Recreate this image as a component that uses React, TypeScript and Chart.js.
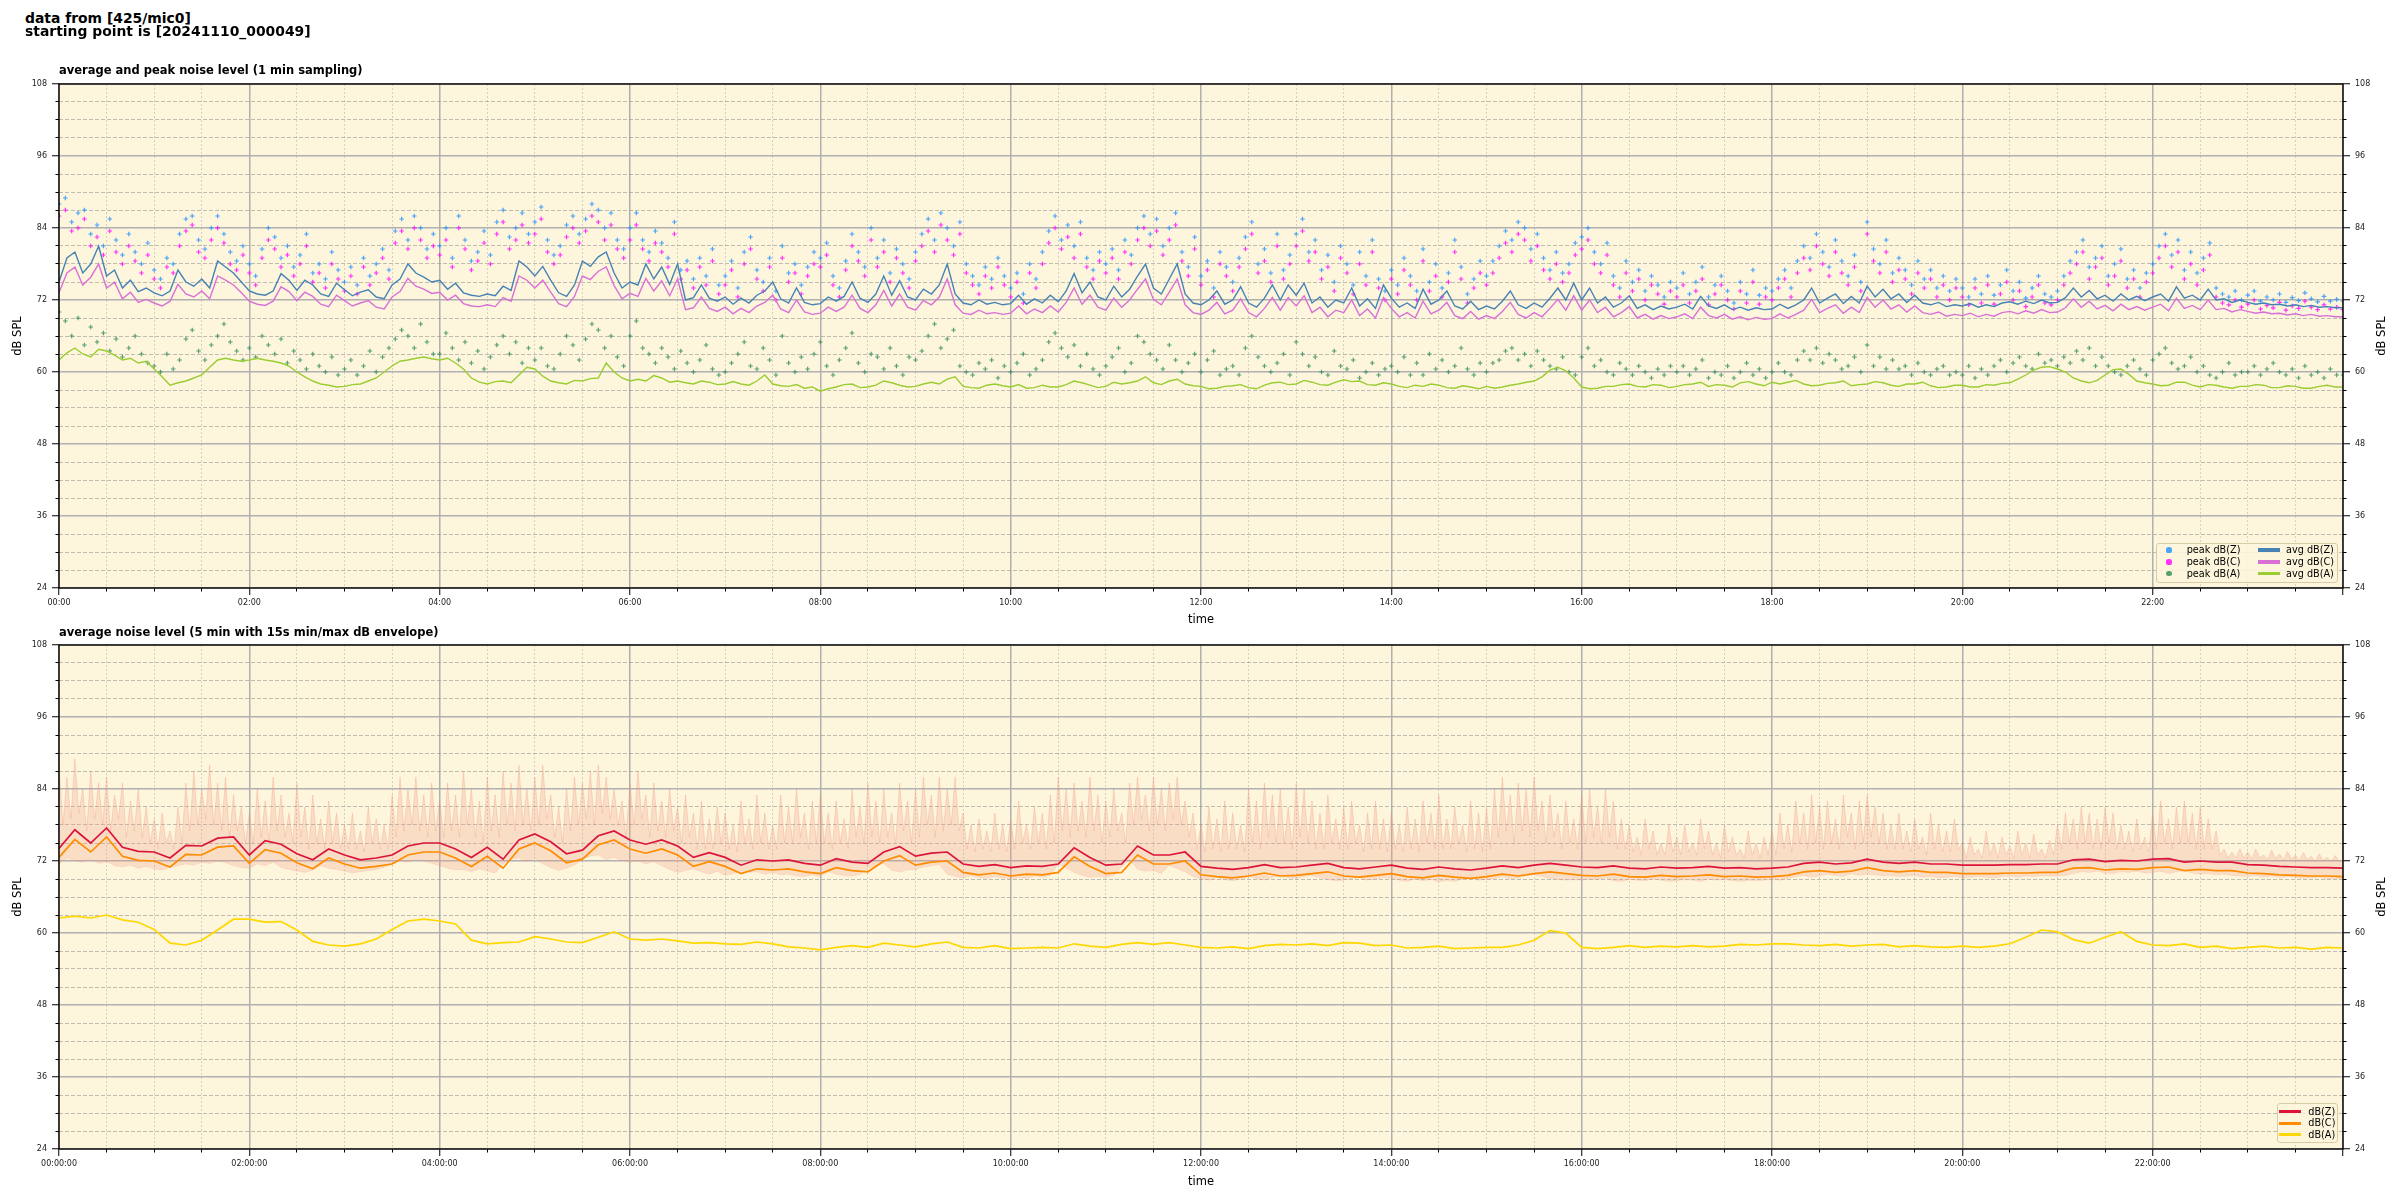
import React, { useEffect, useRef } from 'react';
import { Chart, registerables } from 'chart.js';

Chart.register(...registerables);

// ---------- time grid (minutes after 00:00) ----------
const TOP_AVG_STEP_MIN = 5;
const PEAK_STEP_MIN = 4;
const BOT_AVG_STEP_MIN = 10;
const ENV_MAX_STEP_MIN = 2.5;
const ENV_MIN_STEP_MIN = 5;
const X_MIN = 0;
const X_MAX = 1440;
const Y_MIN = 24;
const Y_MAX = 108;
const MAJOR_X = 120;
const MINOR_X = 30;
const MAJOR_Y = 12;
const MINOR_Y = 3;

// ---------- top panel: averages (read every 5 min, one row per hour) ----------
const topAvgZ = [
  75, 79, 80, 76.5, 78, 81, 76, 77, 74, 75.3, 73.4, 74,
  73.2, 72.7, 73.5, 77, 75, 74.3, 75.5, 74, 78.5, 77.5, 76.5, 75,
  73.5, 73, 72.8, 73.5, 76.4, 75.3, 73.6, 75.3, 74.5, 73, 72.6, 74.8,
  73.7, 72.7, 73.3, 73.7, 72.5, 72.2, 74.5, 75.5, 78, 76.5, 75.8, 75,
  75.3, 73.8, 74.8, 73.2, 72.8, 72.6, 73, 72.7, 74.3, 73.6, 78.5, 77.5,
  76, 77.6, 75.3, 73.2, 72.6, 74.5, 78.5, 77.6, 79.2, 80, 76.5, 74,
  75, 74.5, 78, 75.5, 77.5, 74.6, 78, 72, 72.4, 74.5, 72.3, 71.8,
  72.5, 71.3, 72.3, 71.5, 72.8, 73.5, 75, 72.2, 71.5, 74, 71.6, 71.2,
  71.4, 72.5, 71.8, 72.6, 75, 72.3, 71.6, 73, 76, 72.8, 75.2, 72.5,
  72, 73.8, 73, 74.5, 78, 73, 71.5, 71.2, 72, 71.3, 71.6, 71.2,
  71.4, 72.8, 71.3, 72.2, 71.5, 72.8, 71.7, 73.5, 76.4, 73.2, 75, 72.5,
  72, 74.3, 72.5, 73.8, 76, 78, 74, 73, 75.5, 78, 73, 71.5,
  71.2, 72, 73.5, 71.3, 72, 74.2, 71.5, 70.8, 72.3, 74.5, 72, 74.5,
  72.8, 74.8, 71.5, 72.5, 70.8, 72, 71.5, 74, 71, 72.2, 70.6, 74.5,
  72.3, 70.8, 71.5, 70.6, 73.8, 71.3, 72, 73.5, 71, 70.5, 71.8, 70.4,
  71, 70.5, 71.8, 73.5, 71.2, 70.6, 71.5, 70.8, 72.3, 74, 72, 74.8,
  72, 74, 71.5, 72.5, 70.8, 71.5, 72.7, 70.6, 71.2, 70.4, 71, 70.5,
  70.8, 71.3, 70.5, 72.6, 71, 70.6, 71.2, 70.4, 70.8, 70.3, 70.7, 70.4,
  70.5, 71.3, 70.6, 71.2, 72, 74, 71.5, 72.3, 73, 71.4, 72.6, 71.5,
  74.3, 72.5, 73.8, 72.2, 73, 71.6, 72.8, 71.5, 71.2, 71.6, 70.9, 71.2,
  71, 71.4, 70.8, 71.2, 70.9, 71.5, 71.7, 71.3, 71.8, 71.4, 72, 71.5,
  71.6, 72.4, 74, 72.5, 73.6, 72.2, 72.8, 71.8, 73, 72, 72.6, 71.9,
  72.5, 73, 71.8, 74.2, 72.3, 72.8, 72, 73.8, 72, 72.2, 71.6, 72,
  71.6, 71.3, 71.5, 71.2, 71.3, 71, 71.2, 70.9, 71.1, 70.8, 70.9, 70.7,
  70.7,
];
const topAvgC = [
  73.2, 76.5, 77.5, 74.5, 75.8, 78, 74, 75, 72.2, 73.3, 71.6, 72.1,
  71.5, 71, 71.8, 74.6, 73, 72.5, 73.5, 72.2, 76, 75.3, 74.5, 73.2,
  71.8, 71.3, 71.1, 71.8, 74.2, 73.4, 71.9, 73.3, 72.6, 71.3, 70.9, 72.8,
  71.9, 71, 71.5, 71.9, 70.8, 70.5, 72.5, 73.4, 75.6, 74.3, 73.8, 73.1,
  73.3, 72, 72.8, 71.4, 71, 70.9, 71.2, 70.9, 72.4, 71.8, 76, 75.3,
  74, 75.3, 73.3, 71.4, 70.9, 72.6, 76, 75.4, 76.8, 77.5, 74.4, 72.2,
  73.1, 72.6, 75.6, 73.5, 75.2, 72.7, 75.5, 70.4, 70.7, 72.5, 70.6, 70.1,
  70.8, 69.7, 70.6, 69.9, 71, 71.6, 72.8, 70.5, 69.9, 72, 70, 69.6,
  69.8, 70.8, 70.1, 70.8, 72.8, 70.6, 69.9, 71.2, 73.6, 71, 73, 70.8,
  70.3, 71.9, 71.2, 72.5, 75.5, 71.2, 69.8, 69.6, 70.3, 69.7, 69.9, 69.6,
  69.8, 71, 69.7, 70.5, 69.9, 71, 70, 71.6, 74, 71.3, 72.8, 70.8,
  70.3, 72.3, 70.8, 72, 73.8, 75.5, 72.1, 71.2, 73.3, 75.5, 71.2, 69.9,
  69.6, 70.3, 71.6, 69.7, 70.3, 72.2, 69.9, 69.2, 70.6, 72.4, 70.3, 72.4,
  71, 72.7, 69.9, 70.8, 69.2, 70.3, 69.9, 72, 69.4, 70.5, 69, 72.4,
  70.6, 69.2, 69.9, 69, 71.8, 69.7, 70.3, 71.6, 69.4, 68.9, 70.1, 68.8,
  69.4, 68.9, 70.1, 71.6, 69.6, 69, 69.9, 69.2, 70.6, 72.1, 70.3, 72.7,
  70.3, 72, 69.9, 70.8, 69.2, 69.9, 70.9, 69, 69.6, 68.8, 69.4, 68.9,
  69.2, 69.7, 68.9, 70.8, 69.4, 69, 69.6, 68.8, 69.2, 68.7, 69.1, 68.8,
  68.9, 69.7, 69, 69.6, 70.3, 72.1, 69.9, 70.6, 71.2, 69.8, 70.8, 69.9,
  72.4, 70.8, 72, 70.5, 71.2, 70, 71, 69.9, 69.6, 70, 69.3, 69.6,
  69.4, 69.8, 69.2, 69.6, 69.3, 69.9, 70.1, 69.7, 70.2, 69.8, 70.4, 69.9,
  70, 70.7, 72.2, 70.8, 71.8, 70.5, 71.1, 70.2, 71.3, 70.4, 70.9, 70.3,
  70.8, 71.3, 70.2, 72.3, 70.6, 71.1, 70.4, 72, 70.4, 70.6, 70, 70.4,
  70.1, 69.8, 70, 69.7, 69.8, 69.5, 69.7, 69.4, 69.6, 69.3, 69.4, 69.2,
  69.2,
];
const topAvgA = [
  62, 63.2, 64, 63, 62.5, 63.8, 63.5, 62.8, 62, 62.3, 61.5, 61.8,
  60.5, 59.2, 57.8, 58.2, 58.5, 59, 59.5, 60.8, 62, 62.3, 62, 61.8,
  62, 62.3, 62, 61.8, 61.5, 61, 60, 59.2, 58.5, 58, 57.8, 57.5,
  57.6, 57.9, 58, 58.5, 59, 60, 61, 61.8, 62, 62.3, 62.5, 62.2,
  62, 62.3, 61.5, 60.5, 59, 58.3, 58, 58.4, 58.5, 58.2, 59.5, 60.8,
  60.5, 59.3, 58.5, 58.2, 58, 58.6, 58.5, 58.9, 59, 61.5, 60, 59,
  58.5, 58.8, 58.5, 59.4, 59, 58.3, 58.5, 58.2, 58, 58.5, 58.3, 57.9,
  58, 58.4, 58, 57.8, 58.5, 59.5, 58, 57.7, 57.6, 57.9, 57.3, 57.5,
  56.8, 57.2, 57.5, 57.9, 58, 57.4, 57.5, 57.8, 58.5, 58.2, 57.8, 57.5,
  57.6, 58, 58.3, 58, 58.8, 59.2, 57.6, 57.4, 57.3, 57.8, 58, 57.7,
  57.5, 57.9, 57.3, 57.4, 57.8, 57.5, 57.5, 57.9, 58.5, 58.2, 57.8, 57.4,
  57.6, 58.3, 58, 58.2, 58.5, 59.2, 58.2, 57.9, 58.5, 58.8, 58, 57.7,
  57.6, 57.2, 57.3, 57.6, 57.7, 57.9, 57.4, 57.2, 57.8, 58.2, 58.3, 57.9,
  58, 58.6, 58.3, 57.9, 57.8, 58.3, 58.7, 58.4, 58.5, 57.9, 57.8, 58.2,
  58, 57.6, 57.4, 57.8, 57.6, 58, 57.8, 57.4, 57.3, 57.7, 57.5, 57.2,
  57.6, 57.3, 57.5, 57.8, 58, 58.3, 58.5, 59.2, 60.3, 60.8, 60.2, 59,
  57.5, 57.2, 57.3, 57.6, 57.6, 57.9, 58, 57.6, 57.5, 57.9, 57.8, 57.4,
  57.6, 57.9, 58, 58.3, 57.6, 57.9, 57.8, 57.5, 58.2, 58.4, 58, 57.7,
  58.3, 58, 58.3, 58.6, 58, 57.7, 57.8, 58.1, 58.2, 58.5, 57.7, 57.9,
  58, 58.4, 58.2, 57.8, 57.6, 58, 58, 58.3, 57.7, 57.4, 57.5, 57.8,
  57.8, 57.5, 57.5, 57.9, 57.8, 58.1, 58.2, 58.8, 59.5, 60.3, 60.8, 60.9,
  60.5, 60, 59, 58.5, 58.2, 58.6, 59.5, 60.4, 60.5, 59.6, 58.5, 58.2,
  58, 57.7, 57.8, 58.3, 58.3, 57.8, 57.5, 57.9, 57.8, 57.5, 57.3, 57.6,
  57.6, 57.9, 57.8, 57.4, 57.4, 57.7, 57.6, 57.3, 57.3, 57.6, 57.8, 57.5,
  57.5,
];

// ---------- top panel: peaks (read every 4 min, one row per hour) ----------
const topPeakZ = [
  88, 89, 85, 86.5, 87, 83, 84.5, 81, 85.5, 82, 79.5, 83, 80, 78, 81.5,
  77, 75.5, 79, 78, 83, 85.5, 86, 82, 80.5, 84, 86, 83, 80, 78.5, 81,
  78, 76, 80.5, 84, 82.5, 79, 81, 77.5, 79.5, 83, 76.5, 78, 75.5, 80, 77,
  75, 77.5, 74.5, 79, 76, 78, 80.5, 77, 83.5, 85.5, 82, 86, 84, 80.5, 83,
  81, 84, 79, 86, 82, 78.5, 80, 83.5, 79.5, 85, 87, 82.5, 84, 86.5, 83,
  85, 87.5, 82, 79.5, 81, 84.5, 86, 83, 85.5, 88, 87, 84, 86.5, 82, 80.5,
  84, 86.5, 82, 80, 83.5, 81.5, 79, 85, 77, 78.5, 75.5, 79, 76, 80.5, 74.5,
  76, 78.5, 74, 80, 82.5, 77, 75, 79, 73.5, 81, 76.5, 78, 74.5, 77.5, 80,
  79, 81.5, 76, 74, 78.5, 83, 80, 77.5, 84, 79, 82, 76.5, 80.5, 78, 75.5,
  80, 83, 85.5, 82, 86.5, 84, 81, 85, 78, 76, 74.5, 77.5, 75.5, 79, 76,
  74, 76.5, 73, 78, 75.5, 80, 83.5, 86, 82, 84.5, 81, 85, 79, 77, 80,
  78, 80.5, 77, 82, 79.5, 84, 86, 83, 85.5, 81, 84, 86.5, 80, 77.5, 82.5,
  76, 78.5, 74, 80, 77.5, 75, 79, 82.5, 85, 78, 80.5, 76.5, 83, 77, 79.5,
  83, 85.5, 80, 82, 77, 79.5, 75, 81, 78, 74.5, 80, 76, 82, 75.5, 73.5,
  77, 74.5, 79, 76, 73.5, 80.5, 75, 78, 74, 76.5, 82, 77.5, 73, 75.5, 78.5,
  76, 78.5, 81, 83.5, 82, 85, 84, 80.5, 83, 79, 77, 80, 76.5, 78, 81.5,
  82.5, 84, 80, 78, 81.5, 76, 74, 78.5, 75, 77, 73.5, 76, 74.5, 72.5, 75,
  74, 76.5, 73, 75, 77.5, 72.5, 74.5, 76, 73.5, 71.5, 75, 73, 77, 72.8, 74,
  73.5, 75.5, 77, 74, 78.5, 81, 79, 83, 80, 77.5, 82, 78.5, 76, 79.5, 75,
  85, 80.5, 78, 82, 76.5, 79, 77, 74.5, 78.5, 75.5, 77, 74, 76, 73.5, 75.5,
  74, 72.5, 75.5, 73, 76, 72.8, 74.5, 77, 73.5, 75, 72.3, 74, 76, 73, 72.5,
  73.5, 76, 78.5, 80, 82, 77.5, 79, 81, 76, 78, 80.5, 75.5, 77, 74, 76.5,
  78, 81, 83, 79.5, 82, 77, 80, 76.5, 79, 81.5, 74, 73, 72.5, 73.5, 72,
  72.8, 73.5, 71.8, 72.5, 72, 73, 71.6, 72.4, 71.9, 73.2, 72.2, 71.7, 72.6, 71.8, 72.1,
  71.8,
];
const topPeakC = [
  86, 87, 83.5, 84, 85.5, 81, 82.5, 79.5, 83.5, 80, 78, 81, 78.5, 76.5, 79.5,
  75.5, 74, 77.5, 76.5, 81, 83.5, 84.5, 80, 79, 82, 84, 81.5, 78, 77, 79.5,
  76.5, 74.5, 79, 82, 80.5, 77.5, 79.5, 76, 78, 81, 75, 76.5, 74, 78, 75.5,
  73.5, 76, 73, 77.5, 74.5, 76.5, 79, 75.5, 81.5, 83.5, 80.5, 84, 82, 79, 81,
  79.5, 82, 77.5, 84, 80.5, 77, 78.5, 81.5, 78, 83, 85, 80.5, 82, 84.5, 81.5,
  83, 85.5, 80, 78, 79.5, 82.5, 84, 81.5, 83.5, 86, 85, 82, 84.5, 80.5, 79,
  82, 84.5, 80.5, 78.5, 81.5, 80, 77.5, 83, 75.5, 77, 74, 77.5, 74.5, 78.5, 73,
  74.5, 77, 72.5, 78, 80.5, 75.5, 73.5, 77.5, 72, 79, 75, 76.5, 73, 76, 78,
  77.5, 79.5, 74.5, 72.5, 77, 81, 78.5, 76, 82, 77.5, 80, 75, 79, 76.5, 74,
  78.5, 81, 83.5, 80, 84.5, 82, 79.5, 83, 76.5, 74.5, 73, 76, 74, 77.5, 74.5,
  72.5, 75, 71.5, 76.5, 74, 78, 81.5, 84, 80.5, 82.5, 79, 83, 77.5, 75.5, 78.5,
  76.5, 79, 75.5, 80, 78, 82, 84, 81, 83.5, 79.5, 82, 84.5, 78.5, 76, 80.5,
  74.5, 77, 72.5, 78, 76, 73.5, 77.5, 80.5, 83, 76.5, 78.5, 75, 81, 75.5, 78,
  81, 83.5, 78.5, 80, 75.5, 77.5, 73.5, 79, 76.5, 73, 78, 74.5, 80, 74, 72,
  75.5, 73, 77, 74.5, 72, 78.5, 73.5, 76, 72.5, 75, 80, 75.5, 71.5, 74, 76.5,
  74.5, 76.5, 79, 81.5, 80, 83, 82, 78.5, 81, 77, 75.5, 78, 75, 76.5, 79.5,
  80.5, 82, 78, 76.5, 79.5, 74.5, 72.5, 76.5, 73.5, 75.5, 72, 74.5, 73, 71.3, 73.5,
  72.5, 74.5, 71.5, 73.5, 75.5, 71.2, 73, 74.5, 72, 70.5, 73.5, 71.5, 75, 71.3, 72.5,
  72, 74, 75.5, 72.5, 76.5, 79, 77, 81, 78, 76, 80, 76.5, 74.5, 77.5, 73.5,
  83, 78.5, 76.5, 80, 75, 77, 75.5, 73, 76.5, 74, 75.5, 72.5, 74.5, 72, 74,
  72.5, 71.2, 74, 71.5, 74.5, 71.3, 73, 75, 72, 73.5, 70.9, 72.5, 74.5, 71.5, 71.2,
  72, 74.5, 76.5, 78, 80, 75.5, 77.5, 79, 74.5, 76, 78.5, 74, 75.5, 72.5, 75,
  76.5, 79, 81, 77.5, 80, 75.5, 78, 74.5, 77, 79.5, 72.5, 71.5, 71.2, 72, 70.8,
  71.3, 72, 70.5, 71.1, 70.7, 71.6, 70.3, 71, 70.6, 71.8, 70.8, 70.4, 71.2, 70.5, 70.8,
  70.4,
];
const topPeakA = [
  70, 68.5, 66, 69, 64.5, 67.5, 65, 66.5, 63.5, 65.5, 62.5, 64, 66, 63, 61.5,
  61, 60, 63, 60.5, 62, 65.5, 67, 63.5, 62, 64.5, 66, 68, 65, 63.5, 62,
  64, 62.5, 66, 64.5, 63, 65.5, 61.5, 63.5, 62, 60.5, 63, 61, 60, 62.5, 59.5,
  60.5, 62, 59.5, 61, 63.5, 60, 62.5, 64, 65.5, 67, 66, 64, 68, 65, 63,
  63, 66.5, 64, 62, 65, 61.5, 63.5, 60.5, 62.5, 64.5, 66, 63, 65, 61.5, 64,
  62, 64, 61, 60.5, 63, 66, 64.5, 62, 65.5, 68, 67, 64, 66, 62.5, 61,
  66, 68.5, 64, 63, 61.5, 64, 62.5, 60.5, 63.5, 61.5, 60, 62, 64.5, 60.5, 59.5,
  60, 61.5, 63, 65, 61, 60.5, 64, 62, 59.5, 66, 61.5, 60, 62.5, 60.5, 63,
  65, 61, 59.5, 62, 64, 66.5, 61.5, 60, 63, 62.5, 60.5, 64, 61, 59.5, 62.5,
  62, 63.5, 66, 68, 64, 65.5, 67, 61, 60, 59.5, 61.5, 60.5, 62, 59, 61,
  60, 61.5, 63, 59.5, 60.5, 62, 65, 66.5, 64, 62.5, 64.5, 61, 63, 60.5, 59.5,
  61, 62.5, 64, 60, 61.5, 66, 65, 63, 62, 60.5, 64.5, 62, 60, 61.5, 63,
  60, 62, 63.5, 59.5, 60.5, 61, 59.5, 64, 66, 62.5, 61, 60, 61.5, 63, 59.5,
  65, 63, 61, 62.5, 60, 59.5, 63.5, 61, 60.5, 62, 59, 60, 61.5, 59.5, 60.5,
  61, 60, 62.5, 59.5, 61.5, 59.5, 63, 60.5, 62, 60, 61, 64, 60.5, 59.5, 61.5,
  60, 61.5, 62, 63.5, 64, 62, 63, 61, 63.5, 62, 61, 60.5, 62.5, 60, 59.5,
  62.5, 64, 61, 62, 60, 59.5, 61.5, 60.5, 59.5, 61, 60, 59, 60.5, 59.5, 61,
  60, 61, 59.5, 60.5, 62, 59, 60, 59.5, 61, 59, 60, 61.5, 59.5, 60.5, 59,
  60, 61.5, 60, 59.5, 62, 63.5, 62, 64, 61.5, 63, 62, 60.5, 61, 62.5, 60,
  64.5, 61, 62.5, 60.5, 62, 60.5, 61, 59.5, 61.5, 60, 59.5, 60.5, 61, 59.5, 60,
  59.5, 61, 59, 60.5, 59.5, 61, 62, 60, 61.5, 62.5, 61, 60.5, 63, 61.5, 62,
  61, 62.5, 61.5, 63.5, 62, 64, 61, 62.5, 61, 60, 59.5, 61, 62, 60.5, 59.5,
  62, 63, 64, 61.5, 60.5, 61, 62.5, 60, 61, 59.5, 59, 60, 61.5, 59.5, 60,
  60, 61, 59.5, 60.5, 61.5, 60, 59.5, 60.5, 59, 61, 59.5, 60, 59, 60.5, 59.5,
  59.5,
];

// ---------- bottom panel: 5-min averages (read every 10 min, one row per hour) ----------
const botZ = [
  74.1, 77.2, 75, 77.5, 74.3, 73.6,
  73.5, 72.5, 74.6, 74.5, 75.8, 76,
  73, 75.4, 74.8, 73.2, 72.2, 74,
  73, 72.2, 72.5, 73, 74.5, 75,
  75, 74, 72.6, 74.3, 72.3, 75.5,
  76.5, 75.2, 73.2, 73.8, 76.2, 77,
  75.5, 74.8, 75.5, 74.5, 72.6, 73.4,
  72.6, 71.3, 72.2, 72, 72.2, 71.6,
  71.3, 72.4, 71.8, 71.6, 73.5, 74.4,
  72.8, 73.3, 73.5, 71.5, 71.1, 71.4,
  70.9, 71.2, 71.1, 71.5, 74.2, 72.6,
  71.3, 71.5, 74.5, 73, 73, 73.5,
  71.1, 70.8, 70.6, 70.9, 71.4, 70.9,
  71, 71.3, 71.6, 70.9, 70.7, 71,
  71.3, 70.8, 70.6, 71, 70.7, 70.5,
  70.8, 71.2, 70.9, 71.3, 71.6, 71.3,
  71, 70.9, 71.2, 70.8, 70.7, 71,
  70.8, 70.9, 71.1, 70.8, 70.9, 70.7,
  70.8, 71, 71.6, 71.8, 71.5, 71.7,
  72.3, 71.8, 71.6, 71.8, 71.5, 71.5,
  71.3, 71.3, 71.3, 71.4, 71.4, 71.5,
  71.5, 72.2, 72.3, 71.9, 72.1, 72,
  72.3, 72.4, 71.8, 72, 71.8, 71.8,
  71.4, 71.3, 71.1, 71, 70.9, 70.9,
  70.8,
];
const botC = [
  72.6, 75.6, 73.5, 76, 72.8, 72.1,
  72, 71, 73.1, 73, 74.3, 74.5,
  71.6, 73.9, 73.3, 71.7, 70.7, 72.5,
  71.5, 70.8, 71.1, 71.5, 73, 73.5,
  73.5, 72.5, 71.1, 72.8, 70.8, 74,
  75, 73.7, 71.7, 72.3, 74.7, 75.5,
  74, 73.3, 74, 73, 71.1, 71.9,
  71.1, 69.9, 70.7, 70.5, 70.7, 70.2,
  69.9, 70.9, 70.4, 70.2, 72, 72.9,
  71.3, 71.8, 72, 70.1, 69.7, 70,
  69.5, 69.8, 69.7, 70.1, 72.7, 71.1,
  69.9, 70.1, 73, 71.5, 71.5, 72,
  69.7, 69.4, 69.2, 69.5, 70, 69.5,
  69.6, 69.9, 70.2, 69.5, 69.3, 69.6,
  69.9, 69.4, 69.2, 69.6, 69.3, 69.1,
  69.4, 69.8, 69.5, 69.9, 70.2, 69.9,
  69.6, 69.5, 69.8, 69.4, 69.3, 69.6,
  69.4, 69.5, 69.7, 69.4, 69.5, 69.3,
  69.4, 69.6, 70.2, 70.4, 70.1, 70.3,
  70.9, 70.4, 70.2, 70.4, 70.1, 70.1,
  69.9, 69.9, 69.9, 70, 70, 70.1,
  70.1, 70.8, 70.9, 70.5, 70.7, 70.6,
  70.9, 71, 70.4, 70.6, 70.4, 70.4,
  70, 69.9, 69.7, 69.6, 69.5, 69.5,
  69.4,
];
const botA = [
  62.5, 62.8, 62.5, 63, 62.2, 61.8,
  60.6, 58.3, 58, 58.8, 60.5, 62.3,
  62.3, 61.8, 61.9, 60.5, 58.6, 58,
  57.8, 58.2, 59, 60.6, 62, 62.3,
  62, 61.5, 58.8, 58.2, 58.4, 58.5,
  59.4, 59, 58.5, 58.4, 59.3, 60.2,
  59, 58.8, 59, 58.7, 58.3, 58.4,
  58.2, 58.1, 58.5, 58.2, 57.7, 57.5,
  57.2, 57.6, 57.9, 57.6, 58.3, 58,
  57.7, 58.2, 58.5, 57.6, 57.5, 57.9,
  57.4, 57.5, 57.6, 57.5, 58.2, 57.8,
  57.6, 58.1, 58.4, 58.1, 58.4, 58,
  57.6, 57.5, 57.7, 57.4, 57.9, 58.1,
  58, 58.2, 57.9, 58.4, 58.3, 57.9,
  58, 57.5, 57.6, 57.8, 57.4, 57.5,
  57.6, 57.6, 58, 58.8, 60.4, 60,
  57.6, 57.4, 57.6, 57.9, 57.6, 57.8,
  57.7, 57.9, 57.7, 57.8, 58.1, 58,
  58.2, 58.2, 58, 57.9, 58.1, 57.8,
  58, 58.1, 57.7, 57.9, 57.7, 57.6,
  57.8, 57.6, 57.8, 58.2, 59.3, 60.5,
  60.2, 58.9, 58.3, 59.3, 60.2, 58.6,
  58, 57.9, 58.2, 57.6, 57.8, 57.4,
  57.6, 57.8, 57.5, 57.6, 57.3, 57.6,
  57.5,
];

// ---------- bottom panel: 15 s envelope ----------
// upper edge, read every 2.5 min (one row per hour)
const envMax = [
  88, 78, 86, 79, 89, 80, 84, 77, 87, 79, 85, 78, 86, 77, 83, 79, 85, 76, 82, 77, 84, 76, 81, 75,
  79, 74, 80, 75, 77, 74, 81, 75, 85, 77, 87, 78, 84, 79, 88, 78, 85, 77, 86, 76, 83, 77, 81, 75,
  80, 75, 84, 76, 82, 75, 86, 77, 83, 76, 80, 75, 85, 76, 81, 74, 83, 75, 79, 74, 82, 75, 80, 74,
  78, 74, 80, 74, 77, 73.5, 81, 75, 79, 74, 78, 74, 83, 76, 86, 77, 84, 78, 86, 77, 83, 76, 85, 77,
  82, 76, 85, 77, 83, 76, 87, 78, 84, 76, 82, 75, 86, 77, 83, 76, 87, 78, 85, 77, 88, 78, 84, 77,
  86, 78, 88, 79, 83, 76, 81, 75, 84, 77, 86, 78, 85, 79, 87, 78, 88, 80, 86, 79, 84, 78, 82, 76,
  85, 78, 87, 79, 83, 76, 85, 77, 82, 76, 84, 77, 81, 75, 83, 76, 80, 74, 82, 74, 79, 74, 81, 75,
  80, 74, 78, 73.5, 82, 75, 79, 74, 83, 75, 80, 74, 78, 74, 83, 75, 81, 75, 84, 76, 80, 74, 82, 75,
  83, 75, 80, 74, 82, 75, 79, 74, 84, 76, 81, 75, 85, 76, 82, 75, 84, 76, 80, 75, 85, 77, 82, 75,
  84, 76, 86, 78, 83, 76, 86, 77, 84, 78, 86, 77, 80, 74, 78, 73.5, 79, 74, 77, 73.5, 80, 74, 78, 73.5,
  79, 74, 82, 75, 78, 74, 81, 75, 80, 74, 83, 75, 86, 77, 84, 76, 85, 77, 82, 76, 86, 77, 83, 75,
  82, 76, 84, 77, 80, 75, 85, 78, 86, 79, 83, 77, 86, 78, 84, 77, 85, 79, 86, 78, 82, 76, 80, 74,
  78, 73.5, 81, 74, 79, 73.5, 82, 74, 80, 74, 78, 73.5, 84, 75, 82, 74, 85, 76, 83, 75, 84, 75, 81, 74,
  85, 76, 84, 75, 82, 74, 80, 74, 83, 75, 79, 74, 81, 74, 82, 75, 78, 73.5, 80, 74, 82, 74, 79, 73.5,
  80, 74, 78, 73.5, 81, 74, 79, 73.5, 82, 75, 80, 74, 83, 74, 79, 74, 81, 75, 78, 73.5, 82, 74, 80, 73.5,
  81, 74, 84, 76, 86, 77, 83, 75, 85, 77, 84, 76, 86, 77, 82, 75, 83, 76, 80, 74, 82, 75, 79, 74,
  83, 75, 84, 76, 81, 75, 84, 76, 82, 74, 79, 74, 78, 73.5, 76, 73, 79, 74, 77, 73, 75, 73, 78, 73.5,
  76, 73, 78, 73.5, 75, 73, 79, 74, 77, 73, 75, 72.5, 78, 73.5, 76, 73, 74, 72.5, 77, 73, 75, 72.5, 76, 73,
  77, 73, 80, 74, 78, 73.5, 82, 75, 80, 74, 83, 75, 81, 74, 82, 75, 79, 74, 83, 76, 80, 74, 82, 75,
  83, 76, 81, 75, 80, 74, 78, 74, 80, 74, 77, 73.5, 79, 74, 76, 73, 80, 74, 78, 73.5, 77, 73.5, 79, 74,
  75, 72.5, 76, 73, 74, 72.5, 77, 73, 75, 72.5, 76, 73, 74.5, 72.5, 77, 73, 75, 72.5, 76.5, 73, 74, 72.5, 75.5, 73,
  78, 74, 80, 75, 79, 74, 81, 75, 80, 74, 79, 74, 81, 75, 80, 74, 78, 74, 77, 73.5, 79, 74, 76, 73.5,
  80, 74, 82, 75, 79, 74, 81, 75, 82, 75, 80, 74, 81, 74, 79, 74, 77, 73, 74, 72.5, 73.5, 72.5, 74, 72.5,
  73.5, 72.3, 74, 72.5, 73, 72.2, 73.8, 72.4, 73.2, 72.1, 73.6, 72.3, 73, 72, 73.4, 72.2, 72.8, 71.9, 73.2, 72.1, 72.6, 71.8, 72.9, 72,
  72,
];
// lower edge, read every 5 min (one row per hour)
const envMin = [
  71.5, 72.5, 72, 71.8, 72.3, 71.6, 71.9, 71.2, 71, 71.3, 70.8, 71.1,
  70.7, 70.5, 70.9, 71.2, 71.5, 71.3, 71.8, 71.6, 72, 71.7, 71.2, 70.9,
  70.8, 71.5, 71.2, 71.8, 70.9, 70.6, 70.3, 70.1, 70.5, 71.2, 70.8, 70.6,
  70.3, 70, 70.2, 70.4, 70.6, 70.9, 71.5, 72, 71.8, 72.2, 72, 71.6,
  71.2, 70.8, 70.5, 70.6, 70.2, 70.7, 70.3, 70, 71.5, 72.3, 72.5, 71.9,
  72.4, 71.5, 70.9, 70.4, 70.8, 71.3, 72.3, 72.8, 73, 72.2, 72.6, 72.1,
  71.8, 72, 71.5, 71.9, 71.2, 70.6, 70.1, 70.4, 70.7, 70.2, 69.8, 70.3,
  69.6, 69.9, 70.3, 70.1, 70.2, 69.8, 70.1, 69.7, 69.8, 69.5, 69.4, 69.7,
  69.4, 70.2, 69.8, 69.6, 69.5, 69.8, 70.8, 71.2, 71.6, 70.4, 70.2, 70.5,
  70.6, 71, 71.2, 71.4, 69.8, 69.4, 69.2, 69.5, 69.3, 69.1, 69.4, 69.2,
  69, 69.3, 69.1, 69.5, 69.3, 69.6, 71.5, 70.8, 70.1, 69.6, 69.3, 69.4,
  69.3, 69.6, 71.1, 72.2, 70.6, 70.3, 70.4, 69.9, 71.3, 70.7, 70.2, 69.4,
  69, 68.8, 69.2, 68.9, 68.7, 69, 69.4, 69.1, 68.8, 69.3, 69.5, 69.2,
  69.1, 69.4, 69.6, 69.2, 68.9, 68.7, 68.8, 69.1, 69.2, 68.8, 69, 69.3,
  69.1, 68.8, 68.6, 69, 68.7, 68.9, 68.5, 68.8, 68.6, 69, 69.2, 68.8,
  68.9, 69.1, 69.4, 69, 69.2, 69.5, 69.7, 69.4, 69.1, 68.9, 68.8, 68.9,
  68.8, 69, 68.9, 69.2, 68.7, 68.6, 68.9, 68.8, 68.7, 69, 68.8, 68.6,
  68.7, 68.9, 68.8, 68.6, 69, 68.8, 68.9, 68.7, 68.6, 68.8, 68.7, 68.8,
  68.9, 68.8, 69.1, 69.4, 69.6, 69.3, 69.5, 69.8, 69.6, 69.4, 69.9, 69.6,
  69.8, 69.7, 69.5, 69.6, 69.4, 69.5, 69.6, 69.3, 69.4, 69.2, 69.3, 69.4,
  69.2, 69.3, 69.4, 69.3, 69.2, 69.4, 69.5, 69.3, 69.5, 69.4, 69.6, 69.5,
  69.5, 69.6, 69.9, 70.2, 70.1, 70.3, 70, 69.9, 70.2, 70.1, 70.3, 70,
  70.1, 70.3, 69.9, 70.2, 70.4, 70, 69.8, 69.9, 69.7, 69.8, 69.6, 69.5,
  69.4, 69.6, 69.3, 69.5, 69.2, 69.4, 69.3, 69.1, 69.2, 69.3, 69, 69.1,
  69,
];

// ---------- texts ----------
const FIG_TITLE = ['data from [425/mic0]', 'starting point is [20241110_000049]'];
const TOP_TITLE = 'average and peak noise level (1 min sampling)';
const BOT_TITLE = 'average noise level (5 min with 15s min/max dB envelope)';
const Y_LABEL = 'dB SPL';
const X_LABEL = 'time';
const TOP_LEGEND_LEFT = ['peak dB(Z)', 'peak dB(C)', 'peak dB(A)'];
const TOP_LEGEND_RIGHT = ['avg dB(Z)', 'avg dB(C)', 'avg dB(A)'];
const BOT_LEGEND = ['dB(Z)', 'dB(C)', 'dB(A)'];

// ---------- styles ----------
const FONT = '"DejaVu Sans", "Liberation Sans", sans-serif';
const BG = '#fdf6dc';
const C_PEAK = ['rgba(30,144,255,0.8)', 'rgba(255,0,255,0.8)', 'rgba(46,139,87,0.8)'];
const C_AVG = ['#4682b4', '#da70d6', '#9acd32'];
const C_BOT = ['#dc143c', '#ff8c00', '#ffd700'];
const MAJOR_GRID = '#b0b0b0';
const MINOR_GRID_Y = 'rgba(140,140,140,0.55)';
const MINOR_GRID_X = 'rgba(160,160,160,0.45)';

const toPoints = (vals: number[], step: number) => vals.map((y, i) => ({ x: i * step, y }));
const pad2 = (n: number) => String(Math.floor(n)).padStart(2, '0');

const isMajorX = (c: any) => !c.tick || c.tick.value % MAJOR_X === 0;
const isMajorY = (c: any) => !c.tick || c.tick.value % MAJOR_Y === 0;

function xScale(withSeconds: boolean, height: number) {
  return {
    type: 'linear',
    position: 'bottom',
    min: X_MIN,
    max: X_MAX,
    afterFit: (s: any) => { s.height = height; },
    ticks: {
      stepSize: MINOR_X,
      maxTicksLimit: 200,
      autoSkip: false,
      includeBounds: false,
      maxRotation: 0,
      minRotation: 0,
      padding: 3,
      font: { family: FONT, size: 8 },
      color: '#222',
      callback: (v: number) =>
        v % MAJOR_X === 0 && v < X_MAX ? (withSeconds ? `${pad2(v / 60)}:00:00` : `${pad2(v / 60)}:00`) : '',
    },
    grid: {
      color: (c: any) => (isMajorX(c) ? MAJOR_GRID : MINOR_GRID_X),
      lineWidth: (c: any) => (isMajorX(c) ? 1.5 : 1),
      tickLength: 7,
      tickColor: '#000',
      tickWidth: 1,
      tickBorderDash: (c: any) => (isMajorX(c) ? [] : [3.5, 100]),
    },
    border: { display: false, dash: (c: any) => (c.tick && c.tick.value % MAJOR_X !== 0 ? [2, 2] : []) },
  };
}

function yScale(position: 'left' | 'right') {
  const left = position === 'left';
  return {
    type: 'linear',
    position,
    min: Y_MIN,
    max: Y_MAX,
    afterFit: (s: any) => { s.width = left ? 59 : 57; },
    ticks: {
      stepSize: MINOR_Y,
      maxTicksLimit: 200,
      autoSkip: false,
      includeBounds: false,
      padding: 5,
      font: { family: FONT, size: 8 },
      color: '#222',
      callback: (v: number) => (v % MAJOR_Y === 0 ? String(v) : ''),
    },
    grid: {
      drawOnChartArea: left,
      color: (c: any) => (isMajorY(c) ? MAJOR_GRID : MINOR_GRID_Y),
      lineWidth: (c: any) => (isMajorY(c) ? 1.5 : 1),
      tickLength: 7,
      tickColor: '#000',
      tickWidth: 1,
      tickBorderDash: (c: any) => (isMajorY(c) ? [] : left ? [0, 3.5, 3.5, 100] : [3.5, 100]),
    },
    border: { display: false, dash: (c: any) => (c.tick && c.tick.value % MAJOR_Y !== 0 ? [4, 2] : []) },
  };
}

const areaBg = {
  id: 'areaBg',
  beforeDraw(chart: any) {
    const { ctx, chartArea: a } = chart;
    ctx.save();
    ctx.fillStyle = BG;
    ctx.fillRect(a.left, a.top, a.right - a.left, a.bottom - a.top);
    ctx.restore();
  },
};
const frame = {
  id: 'frame',
  afterDraw(chart: any) {
    const { ctx, chartArea: a } = chart;
    ctx.save();
    ctx.strokeStyle = '#000';
    ctx.lineWidth = 1.4;
    ctx.strokeRect(a.left, a.top, a.right - a.left, a.bottom - a.top);
    ctx.restore();
  },
};

const lineDs = (label: string, vals: number[], step: number, color: string, width: number) => ({
  label,
  data: toPoints(vals, step),
  borderColor: color,
  backgroundColor: color,
  borderWidth: width,
  pointRadius: 0,
  showLine: true,
  fill: false,
  tension: 0,
});
const peakDs = (label: string, vals: number[], color: string) => ({
  label,
  data: toPoints(vals, PEAK_STEP_MIN),
  showLine: false,
  pointStyle: 'cross',
  pointRadius: 2.3,
  pointBorderWidth: 1.2,
  pointBorderColor: color,
  pointBackgroundColor: color,
  borderColor: color,
  backgroundColor: color,
});

function baseOptions(padTop: number, xs: any) {
  return {
    responsive: false,
    animation: false,
    devicePixelRatio: 1,
    events: [],
    layout: { padding: { top: padTop, left: 0, right: 0, bottom: 0 } },
    plugins: { legend: { display: false }, tooltip: { enabled: false }, title: { display: false } },
    scales: { x: xs, y: yScale('left'), y2: yScale('right') },
  };
}

const txt = (extra: any) => ({
  position: 'absolute' as const,
  lineHeight: 1,
  whiteSpace: 'nowrap' as const,
  color: '#000',
  fontFamily: FONT,
  ...extra,
});

function CenterText({ x, y, size, text, rotate }: any) {
  return (
    <div style={txt({ left: x, top: y, fontSize: size, transform: `translate(-50%, -50%)${rotate ? ' rotate(-90deg)' : ''}` })}>
      {text}
    </div>
  );
}

function LegendText({ x, y, text }: any) {
  return <div style={txt({ left: x, top: y, fontSize: 9.7, transform: 'translateY(-50%)' })}>{text}</div>;
}

function Swatch({ x, y, color }: any) {
  return <div style={{ position: 'absolute', left: x, top: y - 1.75, width: 22, height: 3.5, background: color }} />;
}

function Dot({ x, y, color }: any) {
  return <div style={{ position: 'absolute', left: x - 2.6, top: y - 2.6, width: 5.2, height: 5.2, borderRadius: '50%', background: color }} />;
}

export default function App() {
  const topRef = useRef<HTMLCanvasElement>(null);
  const botRef = useRef<HTMLCanvasElement>(null);

  useEffect(() => {
    const top = new Chart(topRef.current as HTMLCanvasElement, {
      type: 'line',
      data: {
        datasets: [
          lineDs('avg dB(C)', topAvgC, TOP_AVG_STEP_MIN, C_AVG[1], 1.4),
          lineDs('avg dB(Z)', topAvgZ, TOP_AVG_STEP_MIN, C_AVG[0], 1.4),
          lineDs('avg dB(A)', topAvgA, TOP_AVG_STEP_MIN, C_AVG[2], 1.4),
          peakDs('peak dB(A)', topPeakA, C_PEAK[2]),
          peakDs('peak dB(C)', topPeakC, C_PEAK[1]),
          peakDs('peak dB(Z)', topPeakZ, C_PEAK[0]),
        ] as any,
      },
      options: baseOptions(14, xScale(false, 42)) as any,
      plugins: [areaBg, frame],
    });

    const bot = new Chart(botRef.current as HTMLCanvasElement, {
      type: 'line',
      data: {
        datasets: [
          lineDs('dB(A)', botA, BOT_AVG_STEP_MIN, C_BOT[2], 1.7),
          lineDs('dB(C)', botC, BOT_AVG_STEP_MIN, C_BOT[1], 1.7),
          lineDs('dB(Z)', botZ, BOT_AVG_STEP_MIN, C_BOT[0], 1.7),
          {
            label: 'max',
            data: toPoints(envMax, ENV_MAX_STEP_MIN),
            borderColor: 'rgba(240,140,120,0.28)',
            borderWidth: 1,
            backgroundColor: 'rgba(245,150,130,0.26)',
            pointRadius: 0,
            showLine: true,
            fill: '+1',
            tension: 0,
          },
          {
            label: 'min',
            data: toPoints(envMin, ENV_MIN_STEP_MIN),
            borderColor: 'rgba(240,140,120,0.2)',
            borderWidth: 0.8,
            pointRadius: 0,
            showLine: true,
            fill: false,
            tension: 0,
          },
        ] as any,
      },
      options: baseOptions(15, xScale(true, 51)) as any,
      plugins: [areaBg, frame],
    });

    return () => {
      top.destroy();
      bot.destroy();
    };
  }, []);

  const topRows = [550, 562, 573.5];
  const botRows = [1111.7, 1123.3, 1134.7];

  return (
    <div style={{ position: 'absolute', left: 0, top: 0, width: 2400, height: 1200, background: '#fff', overflow: 'hidden', fontFamily: FONT }}>
      <canvas ref={topRef} width={2400} height={560} style={{ position: 'absolute', left: 0, top: 70, width: 2400, height: 560 }} />
      <canvas ref={botRef} width={2400} height={570} style={{ position: 'absolute', left: 0, top: 630, width: 2400, height: 570 }} />

      <div style={txt({ left: 25, top: 11.5, fontSize: 13.9, fontWeight: 'bold' })}>{FIG_TITLE[0]}</div>
      <div style={txt({ left: 25, top: 25.2, fontSize: 13.9, fontWeight: 'bold' })}>{FIG_TITLE[1]}</div>

      <div style={txt({ left: 59, top: 64.8, fontSize: 11.5, fontWeight: 'bold' })}>{TOP_TITLE}</div>
      <div style={txt({ left: 59, top: 627, fontSize: 11.5, fontWeight: 'bold' })}>{BOT_TITLE}</div>

      <CenterText x={18.4} y={336} size={11.5} text={Y_LABEL} rotate />
      <CenterText x={2381.6} y={336} size={11.5} text={Y_LABEL} rotate />
      <CenterText x={18.4} y={897} size={11.5} text={Y_LABEL} rotate />
      <CenterText x={2381.6} y={897} size={11.5} text={Y_LABEL} rotate />
      <CenterText x={1201} y={620} size={11.5} text={X_LABEL} />
      <CenterText x={1201} y={1181.6} size={11.5} text={X_LABEL} />

      {/* top legend */}
      <div style={{ position: 'absolute', left: 2156, top: 543, width: 182, height: 40, boxSizing: 'border-box', background: 'rgba(253,246,220,0.85)', border: '1px solid #d8cba8', borderRadius: 3 }} />
      {TOP_LEGEND_LEFT.map((t, i) => (
        <React.Fragment key={'tl' + i}>
          <Dot x={2169} y={topRows[i]} color={C_PEAK[i]} />
          <LegendText x={2186.7} y={topRows[i]} text={t} />
        </React.Fragment>
      ))}
      {TOP_LEGEND_RIGHT.map((t, i) => (
        <React.Fragment key={'tr' + i}>
          <Swatch x={2257.7} y={topRows[i]} color={C_AVG[i]} />
          <LegendText x={2286} y={topRows[i]} text={t} />
        </React.Fragment>
      ))}

      {/* bottom legend */}
      <div style={{ position: 'absolute', left: 2276.7, top: 1103.3, width: 61.6, height: 40, boxSizing: 'border-box', background: 'rgba(253,246,220,0.85)', border: '1px solid #d8cba8', borderRadius: 3 }} />
      {BOT_LEGEND.map((t, i) => (
        <React.Fragment key={'bl' + i}>
          <Swatch x={2279} y={botRows[i]} color={C_BOT[i]} />
          <LegendText x={2308.3} y={botRows[i]} text={t} />
        </React.Fragment>
      ))}
    </div>
  );
}
